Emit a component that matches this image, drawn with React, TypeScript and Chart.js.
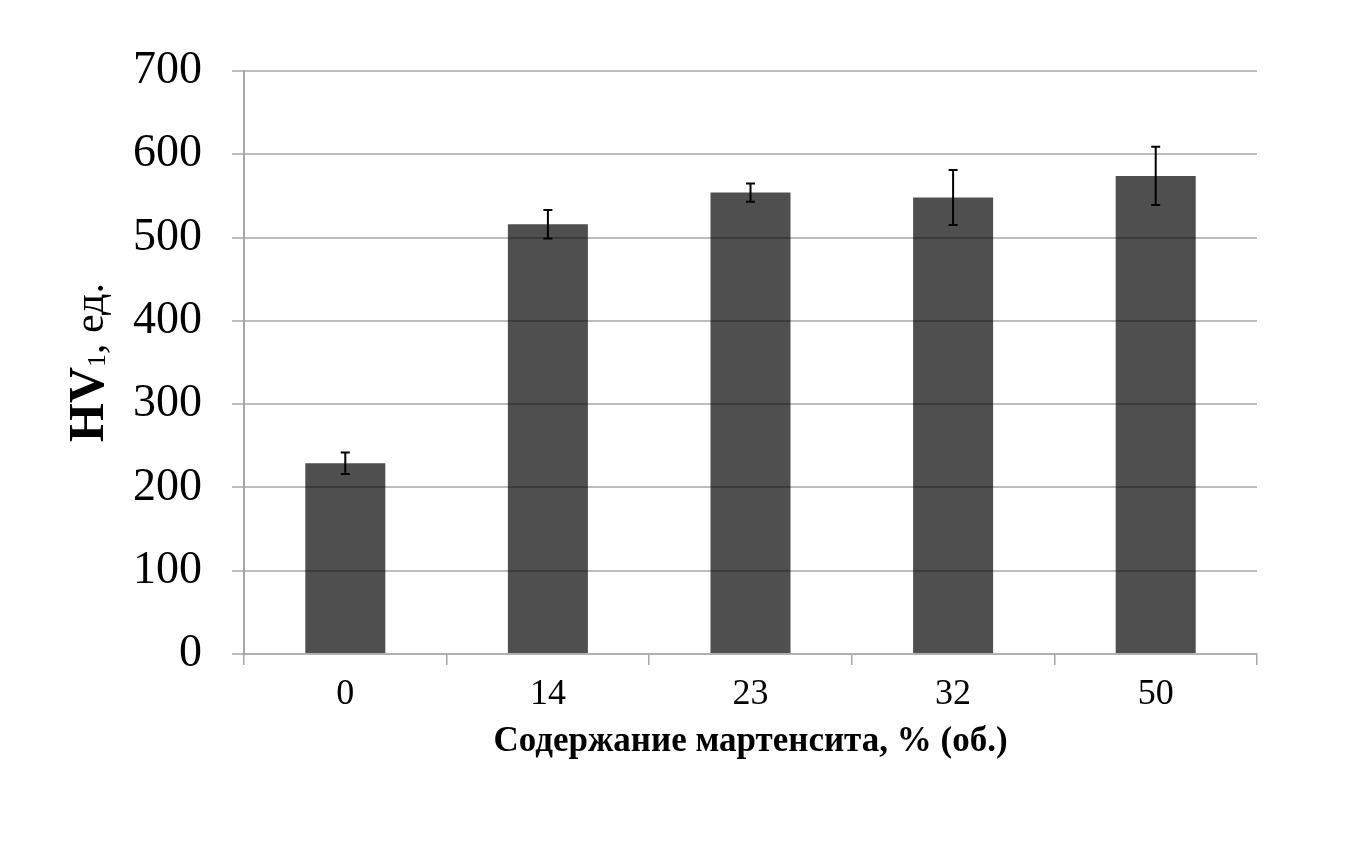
import React, { useEffect, useRef } from "react";
import { Chart, registerables } from "chart.js";

Chart.register(...registerables);

// data
const martensite = ["0", "14", "23", "32", "50"];
const hardness = [229, 516, 554, 548, 574];
const hardnessError = [13, 17, 11, 33, 35];
const yMin = 0;
const yMax = 700;
const yStep = 100;

const SERIF = "'Liberation Serif', 'Times New Roman', serif";

// error bars on top of the columns
const errorBarsPlugin = {
  id: "errorBars",
  afterDatasetsDraw(chart: any) {
    const meta = chart.getDatasetMeta(0);
    const y = chart.scales.y;
    const ctx = chart.ctx;
    ctx.save();
    ctx.strokeStyle = "#000";
    ctx.lineWidth = 2;
    meta.data.forEach((bar: any, i: number) => {
      const top = y.getPixelForValue(hardness[i] + hardnessError[i]);
      const bottom = y.getPixelForValue(hardness[i] - hardnessError[i]);
      const x = bar.x;
      ctx.beginPath();
      ctx.moveTo(x, top);
      ctx.lineTo(x, bottom);
      ctx.moveTo(x - 4.5, top);
      ctx.lineTo(x + 4.5, top);
      ctx.moveTo(x - 4.5, bottom);
      ctx.lineTo(x + 4.5, bottom);
      ctx.stroke();
    });
    ctx.restore();
  },
};

// y title with a subscript, drawn by hand
const yTitlePlugin = {
  id: "yTitle",
  afterDraw(chart: any) {
    const { ctx, chartArea } = chart;
    const parts = [
      { text: "HV", font: `bold 50px ${SERIF}`, dy: 0 },
      { text: "1", font: `26px ${SERIF}`, dy: 2 },
      { text: ", ед.", font: `42px ${SERIF}`, dy: 0 },
    ];
    ctx.save();
    let total = 0;
    const widths = parts.map((p) => {
      ctx.font = p.font;
      const w = ctx.measureText(p.text).width;
      total += w;
      return w;
    });
    ctx.translate(103, (chartArea.top + chartArea.bottom) / 2);
    ctx.rotate(-Math.PI / 2);
    ctx.fillStyle = "#000";
    ctx.textBaseline = "alphabetic";
    ctx.textAlign = "left";
    let x = -total / 2;
    parts.forEach((p, i) => {
      ctx.font = p.font;
      ctx.fillText(p.text, x, p.dy);
      x += widths[i];
    });
    ctx.restore();
  },
};

export default function App() {
  const canvasRef = useRef<HTMLCanvasElement | null>(null);
  const chartRef = useRef<Chart | null>(null);

  useEffect(() => {
    const ctx = canvasRef.current?.getContext("2d");
    if (!ctx) return;

    chartRef.current = new Chart(ctx, {
      type: "bar",
      data: {
        labels: martensite,
        datasets: [
          {
            data: hardness,
            backgroundColor: "rgba(0,0,0,0.69)",
            borderWidth: 0,
            barPercentage: 0.395,
            categoryPercentage: 1,
          },
        ],
      },
      options: {
        responsive: true,
        maintainAspectRatio: false,
        animation: false,
        layout: { padding: { top: 71, right: 88, bottom: 0, left: 0 } },
        plugins: {
          legend: { display: false },
          tooltip: { enabled: false },
        },
        scales: {
          x: {
            offset: true,
            grid: {
              offset: true,
              drawOnChartArea: false,
              drawTicks: true,
              tickLength: 11,
              color: "#a6a6a6",
              lineWidth: 1.5,
            },
            border: { color: "#b0b0b0", width: 2 },
            ticks: {
              color: "#000",
              padding: 8,
              font: { family: SERIF, size: 36 },
            },
            title: {
              display: true,
              text: "Содержание мартенсита, % (об.)",
              color: "#000",
              font: { family: SERIF, size: 35, weight: "bold" },
              padding: { top: 0, bottom: 86 },
            },
            afterFit(scale: any) {
              scale.height = 195;
            },
          },
          y: {
            min: yMin,
            max: yMax,
            ticks: {
              stepSize: yStep,
              color: "#000",
              padding: 30,
              font: { family: SERIF, size: 46 },
            },
            grid: {
              color: "#bdbdbd",
              lineWidth: 2,
              drawTicks: true,
              tickLength: 12,
            },
            border: { color: "#a6a6a6", width: 2 },
            afterFit(scale: any) {
              scale.width = 244;
            },
          },
        },
      },
      plugins: [errorBarsPlugin, yTitlePlugin],
    });

    return () => {
      chartRef.current?.destroy();
      chartRef.current = null;
    };
  }, []);

  return (
    <div
      style={{
        position: "fixed",
        left: 0,
        top: 0,
        width: 1345,
        height: 849,
        background: "#fff",
      }}
    >
      <canvas ref={canvasRef} />
    </div>
  );
}
